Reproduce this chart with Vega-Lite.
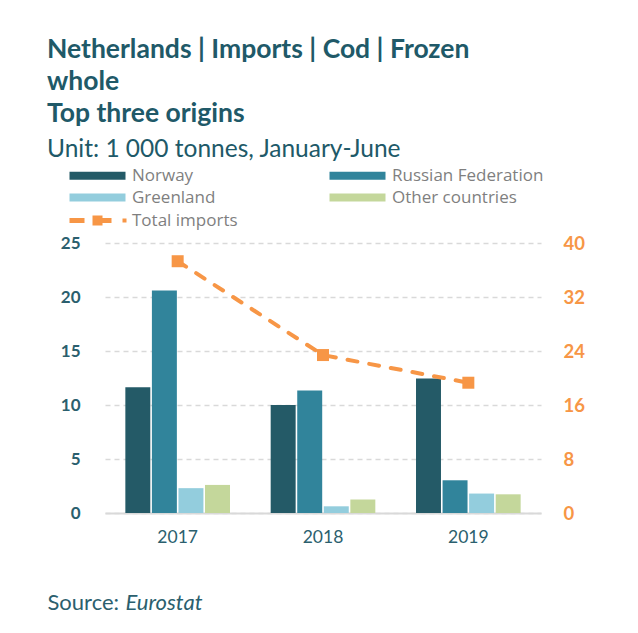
{
  "$schema": "https://vega.github.io/schema/vega-lite/v6.json",
  "width": 436,
  "height": 270,
  "autosize": {"type": "none"},
  "padding": {"left": 105, "top": 243, "right": 97, "bottom": 120},
  "background": "white",
  "config": {"view": {"stroke": null}},
  "title": {
    "text": ["Netherlands | Imports | Cod | Frozen", "whole", "Top three origins"],
    "subtitle": "Unit: 1 000 tonnes, January-June",
    "anchor": "start",
    "frame": "group",
    "dx": -58,
    "font": "Lato",
    "fontSize": 26.5,
    "fontWeight": "bold",
    "color": "#205968",
    "lineHeight": 32,
    "subtitleFont": "Lato",
    "subtitleFontSize": 24.5,
    "subtitleColor": "#205968",
    "subtitlePadding": 10,
    "offset": 6
  },
  "layer": [
    {
      "data": {
        "values": [
          {"year": "2017", "origin": "Norway", "value": 11.65},
          {"year": "2017", "origin": "Russian Federation", "value": 20.6},
          {"year": "2017", "origin": "Greenland", "value": 2.3},
          {"year": "2017", "origin": "Other countries", "value": 2.6},
          {"year": "2018", "origin": "Norway", "value": 10.0},
          {"year": "2018", "origin": "Russian Federation", "value": 11.35},
          {"year": "2018", "origin": "Greenland", "value": 0.62},
          {"year": "2018", "origin": "Other countries", "value": 1.25},
          {"year": "2019", "origin": "Norway", "value": 12.45},
          {"year": "2019", "origin": "Russian Federation", "value": 3.03},
          {"year": "2019", "origin": "Greenland", "value": 1.8},
          {"year": "2019", "origin": "Other countries", "value": 1.73}
        ]
      },
      "mark": {"type": "bar"},
      "encoding": {
        "x": {
          "field": "year",
          "type": "nominal",
          "scale": {"paddingInner": 0.28, "paddingOuter": 0.14},
          "axis": {
            "labelAngle": 0,
            "ticks": false,
            "domain": true,
            "domainColor": "#d9d9d9",
            "domainWidth": 2,
            "labelFont": "Lato",
            "labelFontSize": 17.5,
            "labelColor": "#2b5f6e",
            "labelPadding": 15,
            "title": "Source:",
            "titleFont": "Lato",
            "titleFontSize": 22,
            "titleFontWeight": "normal",
            "titleColor": "#2b5f6e",
            "titleX": -58,
            "titleY": 96,
            "titleAlign": "left",
            "titleBaseline": "alphabetic"
          }
        },
        "xOffset": {
          "field": "origin",
          "type": "nominal",
          "sort": ["Norway", "Russian Federation", "Greenland", "Other countries"],
          "scale": {"paddingInner": 0.06}
        },
        "y": {
          "field": "value",
          "type": "quantitative",
          "scale": {"domain": [0, 25]},
          "axis": {
            "values": [0, 5, 10, 15, 20, 25],
            "grid": true,
            "gridDash": [5, 4],
            "gridColor": "#d9d9d9",
            "gridWidth": 1.5,
            "domain": false,
            "ticks": false,
            "labelPadding": 25,
            "labelColor": "#2b5f6e",
            "labelFont": "Lato",
            "labelFontWeight": "bold",
            "labelFontSize": 17,
            "title": null
          }
        },
        "color": {
          "field": "origin",
          "type": "nominal",
          "scale": {
            "domain": ["Norway", "Russian Federation", "Greenland", "Other countries"],
            "range": ["#245a67", "#31849b", "#93cddd", "#c4d79b"]
          },
          "legend": {
            "orient": "none",
            "direction": "horizontal",
            "legendX": -39,
            "legendY": -76,
            "columns": 2,
            "title": null,
            "symbolType": "M-1,-0.8H10.2V0.8H-1Z",
            "symbolSize": 100,
            "symbolStrokeWidth": 0,
            "symbolOpacity": 1,
            "labelOffset": 49,
            "labelFont": "Open Sans",
            "labelFontSize": 17,
            "labelColor": "#7f7f7f",
            "columnPadding": 110,
            "rowPadding": 4
          }
        }
      }
    },
    {
      "data": {
        "values": [
          {"year": "2017", "total": 37.3},
          {"year": "2018", "total": 23.4},
          {"year": "2019", "total": 19.3}
        ]
      },
      "layer": [
        {
          "mark": {"type": "line", "color": "#f79646", "strokeWidth": 4, "strokeDash": [10, 12], "strokeCap": "round"},
          "encoding": {
            "x": {
              "field": "year",
              "type": "nominal",
              "axis": {
                "orient": "top",
                "labels": false,
                "ticks": false,
                "domain": false,
                "grid": false,
                "title": "Eurostat",
                "titleFont": "Lato",
                "titleFontSize": 22,
                "titleFontWeight": "normal",
                "titleFontStyle": "italic",
                "titleColor": "#2b5f6e",
                "titleX": 20,
                "titleY": 366,
                "titleAlign": "left",
                "titleBaseline": "alphabetic"
              }
            },
            "y": {
              "field": "total",
              "type": "quantitative",
              "scale": {"domain": [0, 40]},
              "axis": {
                "orient": "right",
                "values": [0, 8, 16, 24, 32, 40],
                "grid": false,
                "domain": false,
                "ticks": false,
                "labelColor": "#f79646",
                "labelFont": "Lato",
                "labelFontWeight": "bold",
                "labelFontSize": 18.5,
                "labelPadding": 22,
                "title": null
              }
            }
          }
        },
        {
          "mark": {"type": "point", "shape": "square", "filled": true, "size": 144, "opacity": 1},
          "encoding": {
            "x": {"field": "year", "type": "nominal"},
            "y": {"field": "total", "type": "quantitative"},
            "fill": {
              "datum": "Total imports",
              "scale": {"range": ["#f79646"]},
              "legend": {
                "orient": "none",
                "legendX": -39,
                "legendY": -31,
                "title": null,
                "symbolType": "M-1,-0.5H2V0.5H-1Z M3.6,-1H5.6V1H3.6Z M5.6,-0.5H7.4V0.5H5.6Z M9.6,-0.4H10.4V0.4H9.6Z",
                "symbolSize": 100,
                "symbolStrokeWidth": 0,
                "symbolOpacity": 1,
                "labelOffset": 49,
                "labelFont": "Open Sans",
                "labelFontSize": 17,
                "labelColor": "#7f7f7f"
              }
            }
          }
        }
      ]
    }
  ],
  "resolve": {"scale": {"y": "independent"}, "axis": {"x": "independent"}}
}
